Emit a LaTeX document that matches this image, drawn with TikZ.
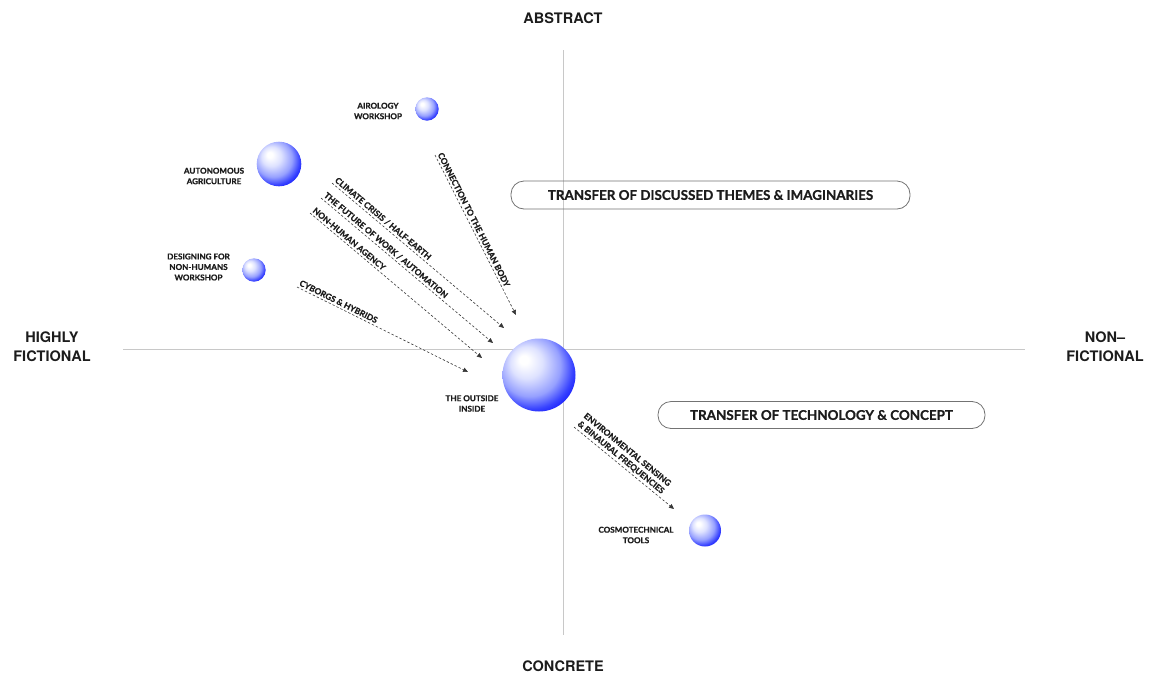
\documentclass[tikz,border=0pt]{standalone}
\usepackage{fontspec}
\usetikzlibrary{arrows.meta}
\newfontfamily\labfont{Lato}[BoldFeatures={FakeBold=0.8}]
\newfontfamily\axfont{TeX Gyre Heros}

\definecolor{ink}{RGB}{28,28,28}
\definecolor{axisgray}{RGB}{200,200,200}
\definecolor{boxgray}{RGB}{115,115,115}
\definecolor{flowgray}{RGB}{55,55,55}
\definecolor{orbA}{RGB}{222,226,255}
\definecolor{orbB}{RGB}{150,160,255}
\definecolor{orbC}{RGB}{55,66,255}
\definecolor{orbD}{RGB}{0,0,250}

% sphere shading: white highlight up-left, saturated blue rim down-right
\pgfdeclareradialshading{orb}{\pgfpoint{-11bp}{11bp}}{%
  color(0bp)=(white); color(3bp)=(white); color(11bp)=(orbA);
  color(21bp)=(orbB); color(28bp)=(orbC); color(35bp)=(orbD); color(50bp)=(orbD)}

\tikzset{
  axisline/.style={draw=axisgray, line width=0.8pt},
  flow/.style={draw=flowgray, line width=0.6pt, dash pattern=on 2.4pt off 2pt,
    -{Triangle[length=5pt,width=4.4pt]}},
  flowlabel/.style={font=\labfont\bfseries\fontsize{8.4}{10}\selectfont, text=ink,
    sloped, anchor=south west, inner sep=0.5pt, pos=0, yshift=1.6pt},
  orblabel/.style={font=\labfont\bfseries\fontsize{8.1}{10.5}\selectfont, text=ink,
    align=center, inner sep=0pt},
  axislabel/.style={font=\axfont\bfseries\fontsize{14.5}{19}\selectfont, text=ink,
    align=center, inner sep=0pt},
  theme/.style={draw=boxgray, line width=0.8pt, rounded corners=13pt,
    font=\labfont\bfseries\fontsize{13.4}{15}\selectfont, text=ink, inner sep=0pt},
  orb/.style={shading=orb}
}

\begin{document}
\begin{tikzpicture}[x=1pt,y=-1pt]
\useasboundingbox (0,0) rectangle (1149,675);
\fill[white] (0,0) rectangle (1149,675);

% axes
\coordinate (ytop) at (563,50);
\coordinate (ybot) at (563,635);
\coordinate (xl) at (123,349);
\coordinate (xr) at (1025,349);
\draw[axisline] (ytop) -- (ybot);
\draw[axisline] (xl) -- (xr);

% axis labels
\node[axislabel] (abstract) at (563,18) {ABSTRACT};
\node[axislabel] (concrete) at (563,666) {CONCRETE};
\node[axislabel] (fict) at (52,347) {HIGHLY\\FICTIONAL};
\node[axislabel] (nonfict) at (1105,347) {NON–\\FICTIONAL};

% transfer boxes
\node[theme, minimum width=399pt, minimum height=28pt] (themes) at (710.5,195)
  {TRANSFER OF DISCUSSED THEMES \& IMAGINARIES};
\node[theme, minimum width=327pt, minimum height=27pt] (tech) at (821.5,415)
  {TRANSFER OF TECHNOLOGY \& CONCEPT};

% spheres
\shade[orb] (427,109) circle (11.7);
\shade[orb] (279,164) circle (22.3);
\shade[orb] (254,270) circle (11.7);
\shade[orb] (539,375) circle (36.5);
\shade[orb] (705,530.5) circle (16);

% sphere labels
\node[orblabel] (airology) at (378,111) {AIROLOGY\\WORKSHOP};
\node[orblabel] (agri) at (214,176) {AUTONOMOUS\\AGRICULTURE};
\node[orblabel] (nonhumans) at (198.5,267) {DESIGNING FOR\\NON-HUMANS\\WORKSHOP};
\node[orblabel] (outside) at (472,403.5) {THE OUTSIDE\\INSIDE};
\node[orblabel] (cosmo) at (636,535) {COSMOTECHNICAL\\TOOLS};

% flows of themes
\coordinate (bodyS) at (435,155);   \coordinate (bodyE) at (516,315);
\coordinate (climS) at (332,183);   \coordinate (climE) at (504,328);
\coordinate (workS) at (321,198);   \coordinate (workE) at (493,343);
\coordinate (agenS) at (310,213);   \coordinate (agenE) at (482,358);
\coordinate (cybS) at (297,287);    \coordinate (cybE) at (468,372);
\coordinate (envS) at (574,427);    \coordinate (envE) at (674,509);

\draw[flow] (bodyS) -- node[flowlabel] {CONNECTION TO THE HUMAN BODY} (bodyE);
\draw[flow] (climS) -- node[flowlabel] {CLIMATE CRISIS / HALF-EARTH} (climE);
\draw[flow] (workS) -- node[flowlabel] {THE FUTURE OF WORK / AUTOMATION} (workE);
\draw[flow] (agenS) -- node[flowlabel] {NON-HUMAN AGENCY} (agenE);
\draw[flow] (cybS) -- node[flowlabel] {CYBORGS \& HYBRIDS} (cybE);
\draw[flow] (envS) -- node[flowlabel, align=center]
  {ENVIRONMENTAL SENSING\\\& BINAURAL FREQUENCIES} (envE);
\end{tikzpicture}
\end{document}
